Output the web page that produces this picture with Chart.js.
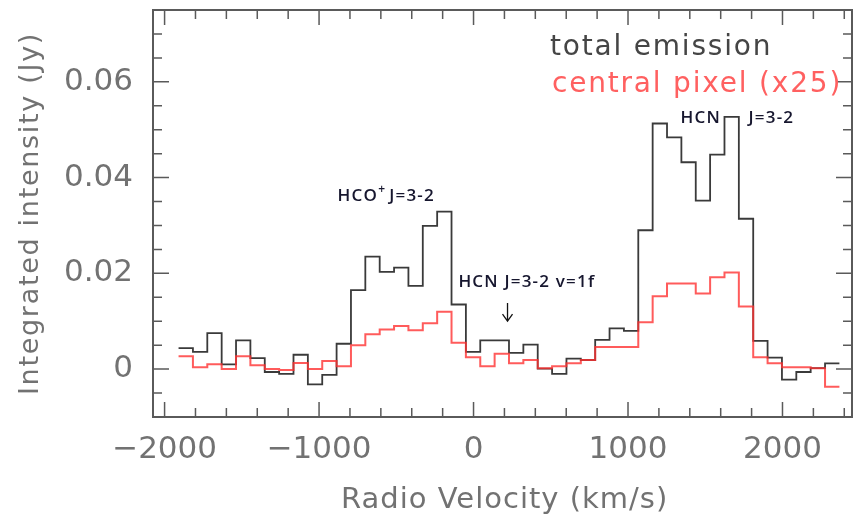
<!DOCTYPE html>
<html>
<head>
<meta charset="utf-8">
<script src="https://cdn.jsdelivr.net/npm/chart.js@4.4.1/dist/chart.umd.min.js"></script>
<style>html,body{margin:0;background:#fff}</style>
</head>
<body>
<canvas id="spec" width="855" height="523"></canvas>
<script>
// channel centres, km/s
const velocity = [-1863,-1770,-1677,-1584,-1491,-1398,-1305,-1212,-1119,-1026,
  -933,-840,-747,-654,-561,-468,-375,-282,-189,-96,
  -3,90,183,276,369,462,555,648,741,834,
  927,1020,1113,1206,1299,1392,1485,1578,1671,1764,
  1857,1950,2043,2136,2229,2322];

// Jy
const totalEmission = [0.0044,0.0036,0.0075,0.0010,0.0060,0.0023,-0.0006,-0.0010,0.0030,-0.0032,
  -0.0012,0.0053,0.0165,0.0235,0.0203,0.0212,0.0174,0.0299,0.0329,0.0135,
  0.0036,0.0060,0.0060,0.0034,0.0051,0.0001,-0.0010,0.0022,0.0019,0.0061,
  0.0085,0.0080,0.0290,0.0513,0.0484,0.0432,0.0352,0.0448,0.0527,0.0314,
  0.0059,0.0024,-0.0022,-0.0006,0.0002,0.0012];

// central pixel, already x25
const centralPixel = [0.0027,0.0004,0.0010,0.0000,0.0027,0.0008,0.0000,-0.0002,0.0013,0.0000,
  0.0017,0.0006,0.0050,0.0073,0.0083,0.0090,0.0081,0.0096,0.0120,0.0055,
  0.0025,0.0006,0.0032,0.0012,0.0019,0.0002,0.0006,0.0012,0.0019,0.0046,
  0.0046,0.0046,0.0098,0.0152,0.0179,0.0179,0.0158,0.0192,0.0202,0.0131,
  0.0025,0.0012,0.0004,0.0004,0.0002,-0.0037];

const xTickValues = [-2000, -1000, 0, 1000, 2000];
const yTickValues = [0, 0.02, 0.04, 0.06];

// histogram: one point per left bin edge + closing right edge
function binEdges(vals) {
  const dv = velocity[1] - velocity[0];
  const pts = vals.map((y, i) => ({x: velocity[i] - dv / 2, y: y}));
  pts.push({x: velocity[velocity.length - 1] + dv / 2, y: vals[vals.length - 1]});
  return pts;
}

const GREY = "#727272";

// frame, inward ticks, titles, legend and line labels
const decor = {
  id: "decor",
  afterDraw(chart) {
    const {ctx, chartArea: a, scales: {x, y}} = chart;
    ctx.save();
    ctx.strokeStyle = "#5a5a5a";
    ctx.lineWidth = 2;
    ctx.strokeRect(a.left, a.top, a.right - a.left, a.bottom - a.top);

    ctx.lineWidth = 1.5;
    ctx.beginPath();
    for (let v = -2000; v <= 2400; v += 200) {
      const px = x.getPixelForValue(v);
      const len = v % 1000 === 0 ? 15 : 9;
      ctx.moveTo(px, a.bottom); ctx.lineTo(px, a.bottom - len);
      ctx.moveTo(px, a.top); ctx.lineTo(px, a.top + len);
    }
    for (let k = -2; k <= 14; k++) {
      const v = k * 0.005;
      const py = y.getPixelForValue(v);
      const len = k % 4 === 0 ? 16 : 9;
      ctx.moveTo(a.left, py); ctx.lineTo(a.left + len, py);
      ctx.moveTo(a.right, py); ctx.lineTo(a.right - len, py);
    }
    ctx.stroke();

    // axis titles
    ctx.fillStyle = GREY;
    ctx.textBaseline = "middle";
    ctx.font = "29px 'DejaVu Sans'";
    ctx.letterSpacing = "1px";
    ctx.textAlign = "left";
    ctx.fillText("Radio Velocity (km/s)", 341, 500);
    ctx.save();
    ctx.translate(31, (a.top + a.bottom) / 2);
    ctx.rotate(-Math.PI / 2);
    ctx.textAlign = "center";
    ctx.font = "27px 'DejaVu Sans'";
    ctx.letterSpacing = "1.7px";
    ctx.fillText("Integrated intensity (Jy)", 0, 0);
    ctx.restore();

    // legend
    ctx.font = "28px 'DejaVu Sans'";
    ctx.letterSpacing = "1.8px";
    ctx.fillStyle = "#454545";
    ctx.fillText("total emission", 550, 48);
    ctx.fillStyle = "#ff6060";
    ctx.fillText("central pixel (x25)", 552, 85);

    // line labels
    ctx.fillStyle = "#16162e";
    ctx.letterSpacing = "1.2px";
    const F = "600 17px 'Open Sans'", Fs = "600 12px 'Open Sans'";
    ctx.font = F;
    const lab = (t, v, j) => {
      ctx.fillText(t, x.getPixelForValue(v), y.getPixelForValue(j));
      return x.getPixelForValue(v) + ctx.measureText(t).width;
    };
    let end = lab("HCO", -880, 0.0362);
    ctx.font = Fs;
    ctx.fillText("+", end, y.getPixelForValue(0.0362) - 6);
    end += ctx.measureText("+").width + 3;
    ctx.font = F;
    ctx.fillText("J=3-2", end, y.getPixelForValue(0.0362));
    lab("HCN J=3-2 v=1f", -98, 0.0181);
    lab("HCN", 1340, 0.0525);
    lab("J=3-2", 1780, 0.0525);
    ctx.letterSpacing = "0px";

    // arrow for the v=1f line
    const ax = x.getPixelForValue(220);
    const ay0 = y.getPixelForValue(0.0138), ay1 = y.getPixelForValue(0.0100);
    ctx.strokeStyle = "#111";
    ctx.lineWidth = 1.3;
    ctx.beginPath();
    ctx.moveTo(ax, ay0); ctx.lineTo(ax, ay1);
    ctx.moveTo(ax - 5, ay1 - 7); ctx.lineTo(ax, ay1); ctx.lineTo(ax + 5, ay1 - 7);
    ctx.stroke();
    ctx.restore();
  }
};

Chart.defaults.font.family = "'DejaVu Sans'";

new Chart(document.getElementById("spec"), {
  type: "line",
  data: {
    datasets: [
      {label: "central pixel (x25)", data: binEdges(centralPixel),
       borderColor: "rgba(255,50,50,0.8)", borderWidth: 2, stepped: true, pointRadius: 0},
      {label: "total emission", data: binEdges(totalEmission),
       borderColor: "#3a3a3a", borderWidth: 1.8, stepped: true, pointRadius: 0}
    ]
  },
  options: {
    responsive: false,
    animation: false,
    devicePixelRatio: 1,
    layout: {padding: {top: 10, right: 3, left: 0, bottom: 0}},
    plugins: {legend: {display: false}, tooltip: {enabled: false}},
    scales: {
      x: {
        type: "linear", min: -2075, max: 2450,
        grid: {display: false, drawTicks: false}, border: {display: false},
        afterBuildTicks: s => { s.ticks = xTickValues.map(v => ({value: v})); },
        afterFit: s => { s.height = 106; s.paddingLeft = 0; s.paddingRight = 0; },
        ticks: {
          color: GREY, font: {size: 31}, padding: 14, maxRotation: 0, autoSkip: false,
          callback: v => v < 0 ? "\u2212" + Math.abs(v) : String(v)
        }
      },
      y: {
        min: -0.01, max: 0.075,
        grid: {display: false, drawTicks: false}, border: {display: false},
        afterBuildTicks: s => { s.ticks = yTickValues.map(v => ({value: v})); },
        afterFit: s => { s.width = 153; s.paddingTop = 0; s.paddingBottom = 0; },
        ticks: {
          color: GREY, font: {size: 31}, padding: 20,
          callback: v => v === 0 ? "0" : v.toFixed(2)
        }
      }
    }
  },
  plugins: [decor]
});
</script>
</body>
</html>
